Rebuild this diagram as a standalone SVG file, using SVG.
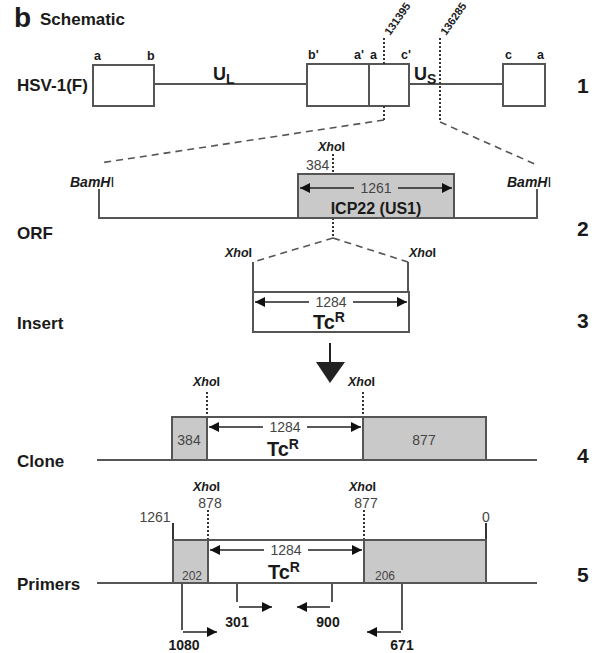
<svg xmlns="http://www.w3.org/2000/svg" width="603" height="653" viewBox="0 0 603 653">
<style>
text{font-family:"Liberation Sans",Arial,sans-serif;fill:#1a1a1a}
.b{font-weight:bold}
.lbl{font-weight:bold;font-size:17px}
.num{font-weight:bold;font-size:21px}
.sm{font-size:12.5px;font-weight:bold}
.rot{font-size:11px;font-weight:bold}
.pl{font-size:14px;font-weight:bold}
.xh{font-size:12.5px;font-weight:bold;font-style:italic}
.bam{font-size:14px;font-weight:bold;font-style:italic}
.g{font-size:14px;fill:#444}
.gs{font-size:12px;fill:#444}
.ln{stroke:#555;stroke-width:2;fill:none}
.box{stroke:#555;stroke-width:2;fill:#fff}
.gb{stroke:#555;stroke-width:2;fill:#c9c9c9}
.dot{stroke:#333;stroke-width:2;stroke-dasharray:2 2;fill:none}
.dash{stroke:#555;stroke-width:1.6;stroke-dasharray:7 5;fill:none}
.ar{stroke:#222;stroke-width:1.5;fill:none}
.tc{font-weight:bold;font-size:20px}
</style>
<defs>
<marker id="ah" viewBox="0 0 10 10" refX="10" refY="5" markerWidth="14" markerHeight="10" markerUnits="userSpaceOnUse" orient="auto-start-reverse">
<path d="M0,0 L10,5 L0,10 z" fill="#111"/>
</marker>
</defs>
<rect width="603" height="653" fill="#fff"/>
<text x="14" y="27" class="b" style="font-size:28px">b</text>
<text x="40" y="25" class="b" style="font-size:17px">Schematic</text>

<g id="row1">
<text x="17" y="91" class="lbl">HSV-1(F)</text>
<line x1="154" y1="84" x2="307" y2="84" class="ln"/>
<line x1="409" y1="84" x2="503" y2="84" class="ln"/>
<rect x="93" y="65" width="61" height="41" class="box"/>
<rect x="307" y="64" width="102" height="42" class="box"/>
<line x1="369" y1="64" x2="369" y2="106" class="ln"/>
<rect x="503" y="64" width="42" height="42" class="box"/>
<text x="94" y="60" class="sm">a</text>
<text x="147" y="60" class="sm">b</text>
<text x="308" y="59" class="sm">b'</text>
<text x="354" y="59" class="sm">a'</text>
<text x="370" y="59" class="sm">a</text>
<text x="401" y="59" class="sm">c'</text>
<text x="505" y="59" class="sm">c</text>
<text x="537" y="59" class="sm">a</text>
<text x="213" y="80" class="b" style="font-size:18px">U<tspan dy="4" style="font-size:14px">L</tspan></text>
<text x="414" y="80" class="b" style="font-size:18px">U<tspan dy="4" style="font-size:14px">S</tspan></text>
<text x="577" y="93" class="num">1</text>
<text transform="translate(390,36) rotate(-55)" class="rot">131395</text>
<text transform="translate(446,36) rotate(-55)" class="rot">136285</text>
</g>

<g id="connectors">
<line x1="384" y1="38" x2="384" y2="64" class="dot"/>
<line x1="384" y1="106" x2="384" y2="120" class="dot"/>
<line x1="440" y1="38" x2="440" y2="122" class="dot"/>
<line x1="384" y1="120" x2="100" y2="163" class="dash"/>
<line x1="440" y1="122" x2="537" y2="165" class="dash"/>
<line x1="333" y1="154" x2="333" y2="174" class="dot"/>
<line x1="333" y1="218" x2="333" y2="238" class="dot"/>
<line x1="333" y1="238" x2="253" y2="262" class="dash"/>
<line x1="333" y1="238" x2="408" y2="262" class="dash"/>
<line x1="330" y1="343" x2="330" y2="363" stroke="#222" stroke-width="2"/>
<path d="M316,362 L345,362 L330,383 z" fill="#222"/>
<line x1="207" y1="392" x2="207" y2="417" class="dot"/>
<line x1="363" y1="392" x2="363" y2="417" class="dot"/>
<line x1="208" y1="510" x2="208" y2="540" class="dot"/>
<line x1="364" y1="510" x2="364" y2="540" class="dot"/>
</g>

<g id="row2">
<text x="17" y="239" class="lbl">ORF</text>
<polyline points="99,189 99,218 537,218 537,189" class="ln"/>
<rect x="298" y="174" width="156" height="44" class="gb"/>
<text x="70" y="187" class="bam">BamH<tspan font-style="normal" font-weight="normal">I</tspan></text>
<text x="507" y="187" class="bam">BamH<tspan font-style="normal" font-weight="normal">I</tspan></text>
<text x="318" y="151" class="xh">Xho<tspan font-style="normal">I</tspan></text>
<text x="306" y="170" class="g">384</text>
<line x1="300" y1="188" x2="354" y2="188" class="ar" marker-start="url(#ah)"/>
<line x1="398" y1="188" x2="452" y2="188" class="ar" marker-end="url(#ah)"/>
<text x="376" y="193" class="g" text-anchor="middle">1261</text>
<text x="376" y="214" class="b" style="font-size:16px" text-anchor="middle">ICP22 (US1)</text>
<text x="577" y="236" class="num">2</text>
</g>

<g id="row3">
<text x="17" y="329" class="lbl">Insert</text>
<polyline points="253,262 253,292" class="ln"/>
<polyline points="408,262 408,292" class="ln"/>
<rect x="253" y="292" width="156" height="40" class="box"/>
<text x="225" y="257" class="xh">Xho<tspan font-style="normal">I</tspan></text>
<text x="409" y="257" class="xh">Xho<tspan font-style="normal">I</tspan></text>
<line x1="255" y1="302" x2="309" y2="302" class="ar" marker-start="url(#ah)"/>
<line x1="353" y1="302" x2="407" y2="302" class="ar" marker-end="url(#ah)"/>
<text x="331" y="307" class="g" text-anchor="middle">1284</text>
<text x="313" y="329" class="tc">Tc<tspan dy="-7" style="font-size:14px">R</tspan></text>
<text x="577" y="328" class="num">3</text>
</g>

<g id="row4">
<text x="17" y="467" class="lbl">Clone</text>
<line x1="97" y1="460" x2="537" y2="460" class="ln"/>
<rect x="172" y="417" width="35" height="43" class="gb"/>
<rect x="207" y="417" width="156" height="43" class="box"/>
<rect x="363" y="417" width="123" height="43" class="gb"/>
<text x="193" y="386" class="xh">Xho<tspan font-style="normal">I</tspan></text>
<text x="348" y="386" class="xh">Xho<tspan font-style="normal">I</tspan></text>
<text x="189" y="445" class="g" text-anchor="middle">384</text>
<text x="424" y="445" class="g" text-anchor="middle">877</text>
<line x1="209" y1="427" x2="263" y2="427" class="ar" marker-start="url(#ah)"/>
<line x1="307" y1="427" x2="361" y2="427" class="ar" marker-end="url(#ah)"/>
<text x="285" y="432" class="g" text-anchor="middle">1284</text>
<text x="267" y="456" class="tc">Tc<tspan dy="-7" style="font-size:14px">R</tspan></text>
<text x="577" y="463" class="num">4</text>
</g>

<g id="row5">
<text x="17" y="590" class="lbl">Primers</text>
<line x1="97" y1="583" x2="537" y2="583" class="ln"/>
<line x1="173" y1="523" x2="173" y2="540" stroke="#333" stroke-width="2"/>
<line x1="486" y1="523" x2="486" y2="540" stroke="#333" stroke-width="2"/>
<rect x="173" y="540" width="35" height="43" class="gb"/>
<rect x="208" y="540" width="156" height="43" class="box"/>
<rect x="364" y="540" width="122" height="43" class="gb"/>
<text x="193" y="491" class="xh">Xho<tspan font-style="normal">I</tspan></text>
<text x="349" y="491" class="xh">Xho<tspan font-style="normal">I</tspan></text>
<text x="210" y="508" class="g" text-anchor="middle">878</text>
<text x="366" y="508" class="g" text-anchor="middle">877</text>
<text x="155" y="522" class="g" text-anchor="middle">1261</text>
<text x="486" y="522" class="g" text-anchor="middle">0</text>
<text x="192" y="580" class="gs" text-anchor="middle">202</text>
<text x="385" y="580" class="gs" text-anchor="middle">206</text>
<line x1="210" y1="550" x2="264" y2="550" class="ar" marker-start="url(#ah)"/>
<line x1="308" y1="550" x2="362" y2="550" class="ar" marker-end="url(#ah)"/>
<text x="286" y="555" class="g" text-anchor="middle">1284</text>
<text x="268" y="579" class="tc">Tc<tspan dy="-7" style="font-size:14px">R</tspan></text>
<line x1="182" y1="583" x2="182" y2="630" class="ln" stroke-width="1.5"/>
<line x1="237" y1="583" x2="237" y2="602" class="ln" stroke-width="1.5"/>
<line x1="332" y1="583" x2="332" y2="602" class="ln" stroke-width="1.5"/>
<line x1="402" y1="583" x2="402" y2="630" class="ln" stroke-width="1.5"/>
<line x1="239" y1="607" x2="272" y2="607" class="ar" marker-end="url(#ah)"/>
<line x1="330" y1="607" x2="297" y2="607" class="ar" marker-end="url(#ah)"/>
<line x1="183" y1="632" x2="217" y2="632" class="ar" marker-end="url(#ah)"/>
<line x1="401" y1="632" x2="367" y2="632" class="ar" marker-end="url(#ah)"/>
<text x="237" y="627" class="pl" text-anchor="middle">301</text>
<text x="328" y="627" class="pl" text-anchor="middle">900</text>
<text x="184" y="650" class="pl" text-anchor="middle">1080</text>
<text x="402" y="650" class="pl" text-anchor="middle">671</text>
<text x="577" y="582" class="num">5</text>
</g>
</svg>
